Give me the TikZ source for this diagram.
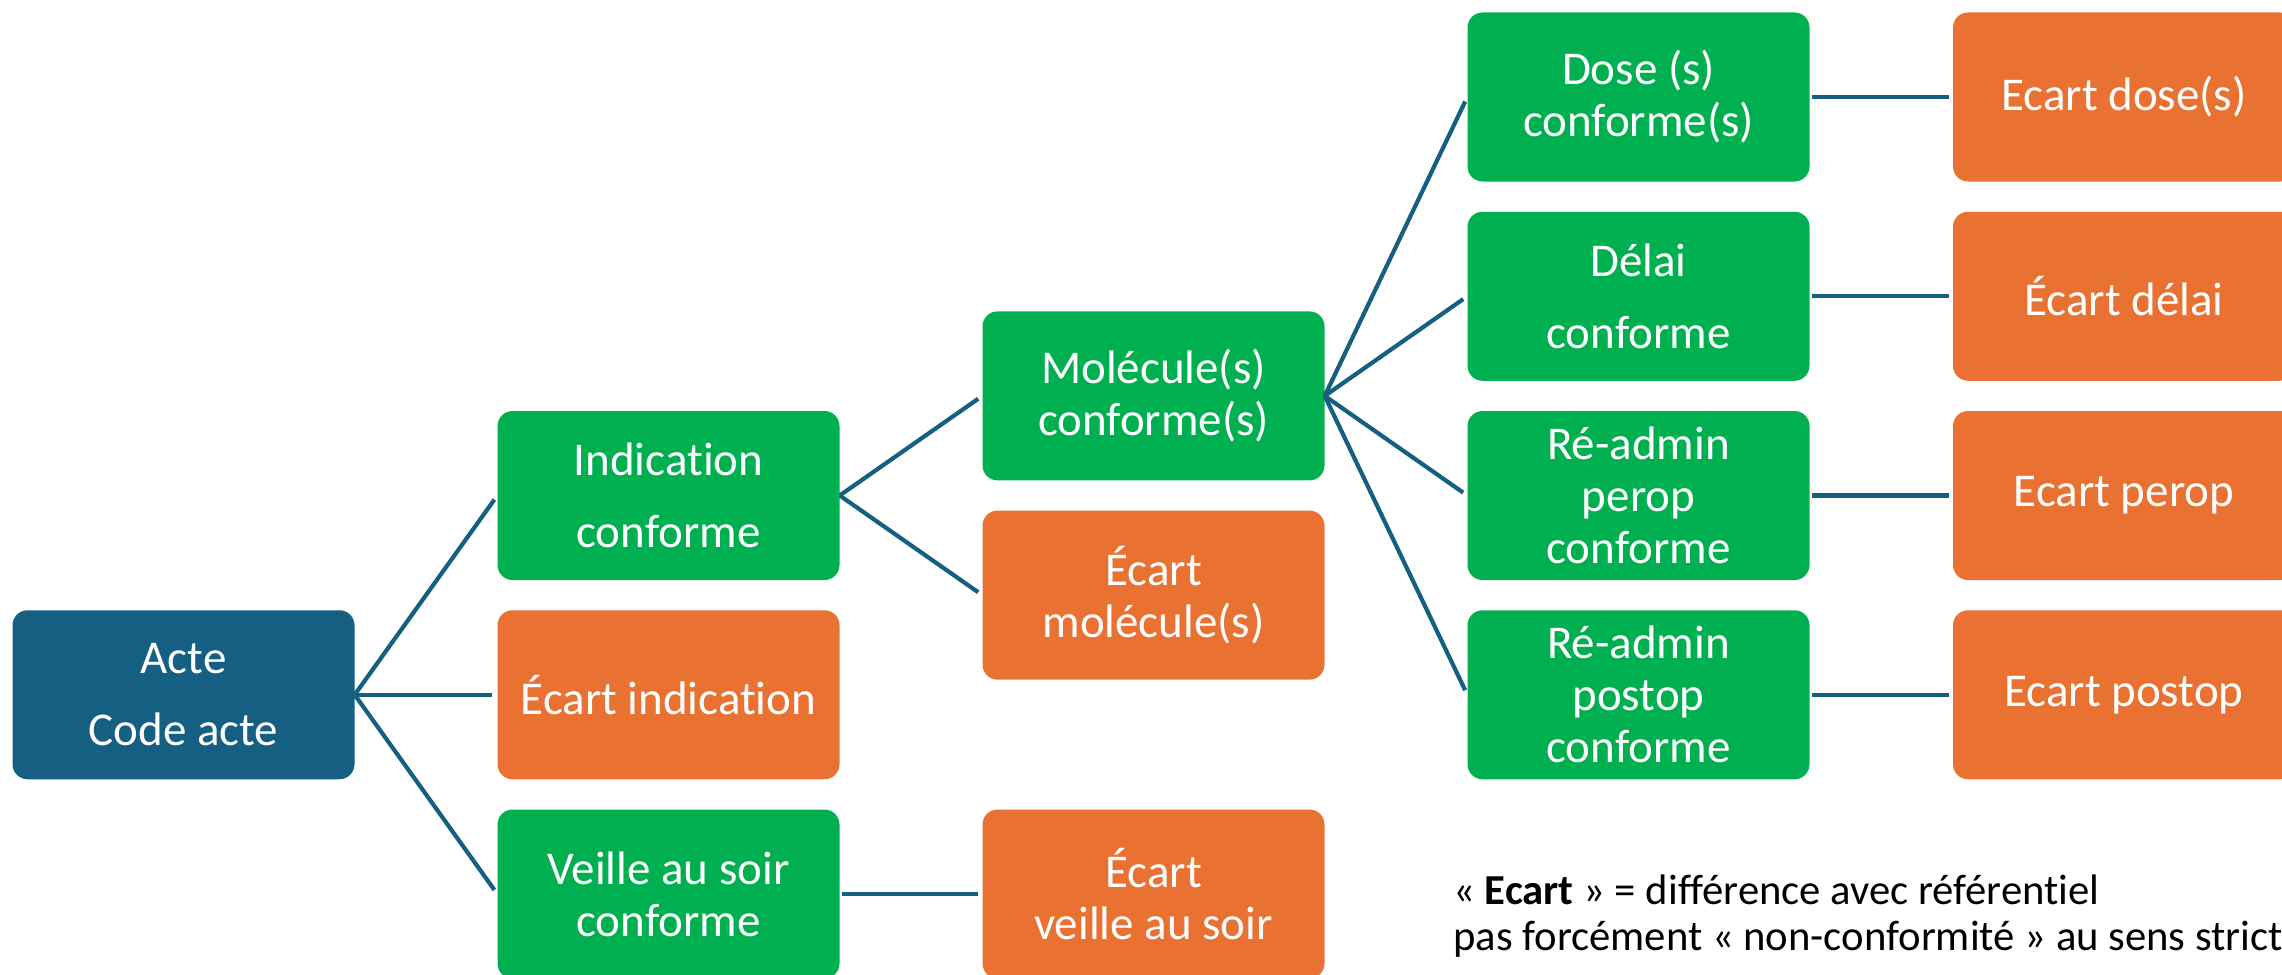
\documentclass[tikz,border=0pt]{standalone}
\usepackage{fontspec}
\setmainfont{Carlito}[Ligatures=NoCommon]
\definecolor{rootblue}{HTML}{156082}
\definecolor{okgreen}{HTML}{00B050}
\definecolor{gaporange}{HTML}{E97132}
\definecolor{linkblue}{HTML}{156082}
\begin{document}
\begin{tikzpicture}[x=1pt,y=-1pt,
  box/.style={rectangle, rounded corners=15pt, minimum width=342pt, minimum height=169pt,
    inner sep=0pt, text=white, align=center, font=\fontsize{47}{52}\selectfont},
  okbox/.style={box, fill=okgreen},
  gapbox/.style={box, fill=gaporange},
  rootbox/.style={box, fill=rootblue},
  link/.style={draw=linkblue, line width=4.2pt, shorten >=5pt},
  hlink/.style={draw=linkblue, line width=4.2pt, shorten <=2pt, shorten >=4pt},
  notetext/.style={anchor=base west, inner sep=0pt, text=black, font=\fontsize{42.7}{52}\selectfont}
]
\useasboundingbox (0,0) rectangle (2282,974);
\clip (0,0) rectangle (2282,974);
% column 0
\node[rootbox] (acte) at (183.5,694.75) {Acte\\[20pt]Code acte};
% column 1
\node[okbox] (indic) at (668.5,495.5) {Indication\\[20pt]conforme};
\node[gapbox] (ecindic) at (668.5,694.75) {Écart indication};
\node[okbox] (veille) at (668.5,894) {Veille au soir\\conforme};
% column 2
\node[okbox] (molec) at (1153.5,395.9) {Molécule(s)\\conforme(s)};
\node[gapbox] (ecmolec) at (1153.5,595.1) {Écart\\molécule(s)};
\node[gapbox] (ecveille) at (1153.5,894) {Écart\\veille au soir};
% column 3
\node[okbox] (dose) at (1638.5,97) {Dose (s)\\conforme(s)};
\node[okbox] (delai) at (1638.5,296.25) {Délai\\[20pt]conforme};
\node[okbox] (perop) at (1638.5,495.5) {Ré-admin\\perop\\conforme};
\node[okbox] (postop) at (1638.5,694.75) {Ré-admin\\postop\\conforme};
% column 4
\node[gapbox] (ecdose) at (2124,97) {Ecart dose(s)};
\node[gapbox] (ecdelai) at (2124,296.25) {Écart délai};
\node[gapbox] (ecperop) at (2124,495.5) {Ecart perop};
\node[gapbox] (ecpostop) at (2124,694.75) {Ecart postop};
% connectors
\draw[link] (acte.east) -- (indic.west);
\draw[link] (acte.east) -- (ecindic.west);
\draw[link] (acte.east) -- (veille.west);
\draw[link] (indic.east) -- (molec.west);
\draw[link] (indic.east) -- (ecmolec.west);
\draw[hlink] (veille.east) -- (ecveille.west);
\draw[link] (molec.east) -- (dose.west);
\draw[link] (molec.east) -- (delai.west);
\draw[link] (molec.east) -- (perop.west);
\draw[link] (molec.east) -- (postop.west);
\draw[hlink] (dose.east) -- (ecdose.west);
\draw[hlink] (delai.east) -- (ecdelai.west);
\draw[hlink] (perop.east) -- (ecperop.west);
\draw[hlink] (postop.east) -- (ecpostop.west);
% note
\node[notetext] (note1) at (1453,904) {« \textbf{Ecart} » = différence avec référentiel};
\node[notetext] (note2) at (1453,950) {pas forcément « non-conformité » au sens strict};
\end{tikzpicture}
\end{document}
